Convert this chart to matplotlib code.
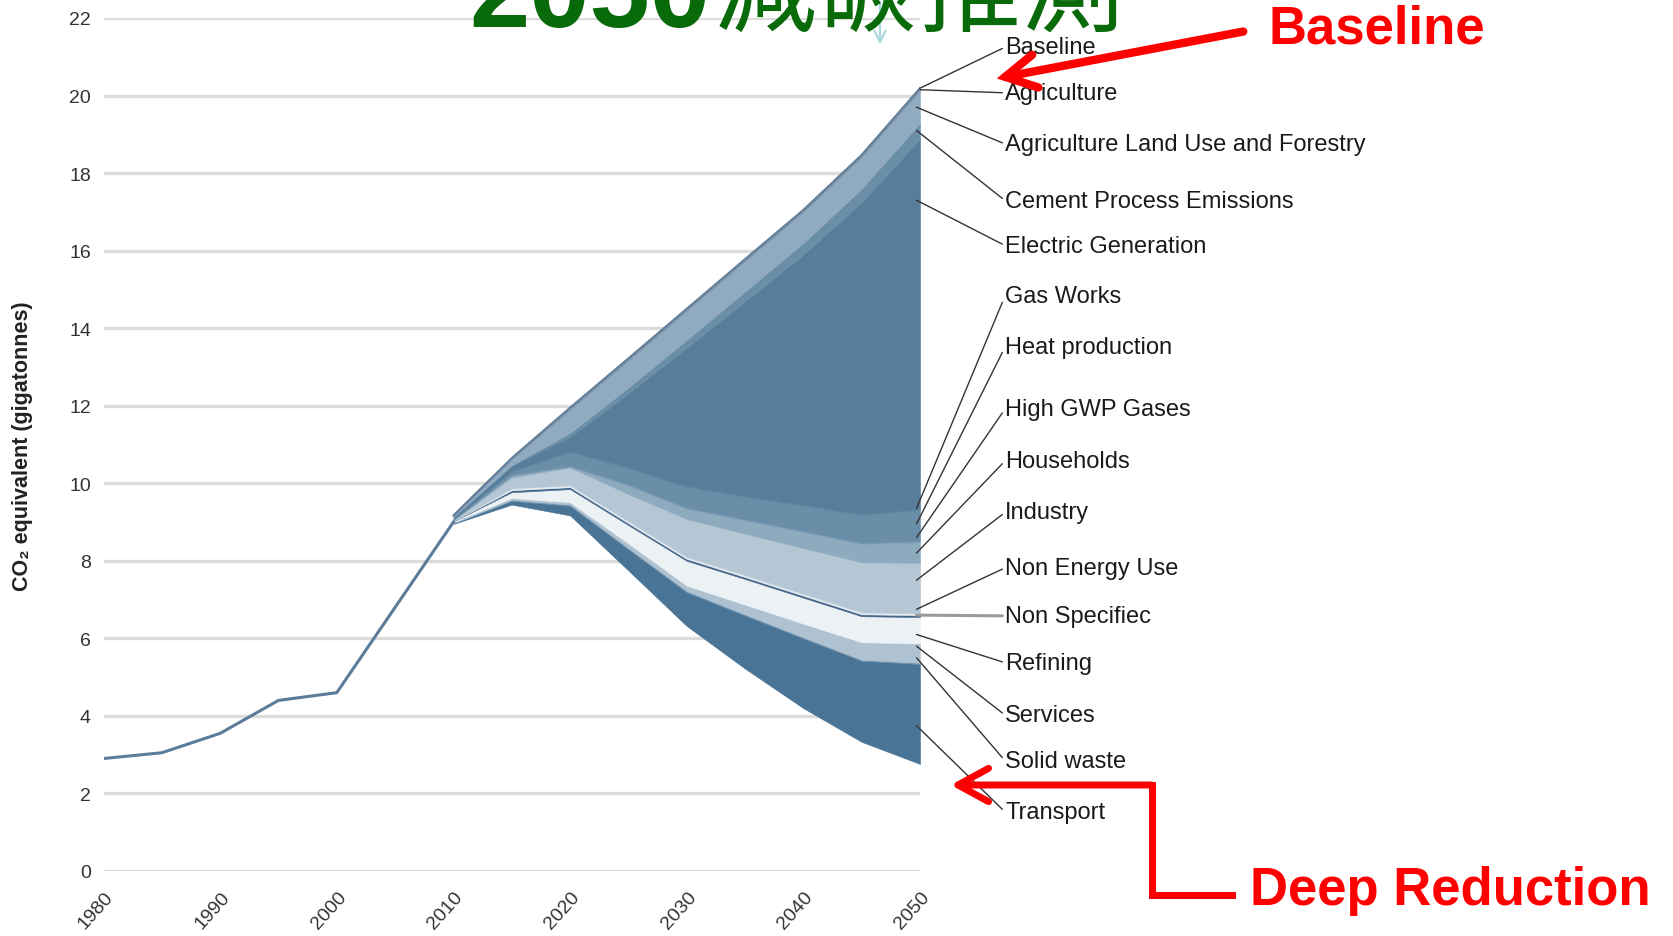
import numpy as np
import matplotlib.pyplot as plt
import matplotlib.transforms as mtransforms
from matplotlib.patches import FancyArrowPatch
from matplotlib.lines import Line2D

plt.rcParams['font.family'] = ['Liberation Sans', 'DejaVu Sans']

# ---- data (gigatonnes CO2 equivalent) ----
hist_years = [1980, 1985, 1990, 1995, 2000, 2010]
hist_values = [2.9, 3.05, 3.55, 4.4, 4.6, 9.0]

years = [2010, 2015, 2020, 2025, 2030, 2035, 2040, 2045, 2050]
deep_reduction = [8.95, 9.45, 9.17, 7.75, 6.32, 5.22, 4.20, 3.33, 2.76]
# reduction wedges, bottom to top
transport   = [0.02, 0.10, 0.25, 0.55, 0.87, 1.37, 1.80, 2.09, 2.58]
solid_waste = [0.00, 0.02, 0.03, 0.03, 0.03, 0.03, 0.03, 0.03, 0.03]
services    = [0.03, 0.05, 0.06, 0.12, 0.14, 0.25, 0.35, 0.45, 0.50]
refining    = [0.02, 0.15, 0.34, 0.47, 0.64, 0.66, 0.67, 0.67, 0.68]
non_specific = [0.01, 0.05, 0.05, 0.05, 0.05, 0.05, 0.05, 0.05, 0.05]
non_energy  = [0.00, 0.05, 0.05, 0.05, 0.05, 0.05, 0.05, 0.05, 0.05]
industry    = [0.02, 0.28, 0.46, 0.70, 0.98, 1.07, 1.18, 1.29, 1.30]
households  = [0.01, 0.05, 0.01, 0.22, 0.26, 0.34, 0.41, 0.47, 0.53]
high_gwp    = [0.00, 0.02, 0.03, 0.03, 0.03, 0.03, 0.03, 0.03, 0.03]
heat        = [0.02, 0.08, 0.35, 0.40, 0.53, 0.57, 0.64, 0.71, 0.79]
gas_works   = [0.00, 0.02, 0.03, 0.03, 0.03, 0.03, 0.03, 0.03, 0.03]
electric    = [0.05, 0.13, 0.37, 1.92, 3.57, 5.03, 6.46, 8.05, 9.56]
cement      = [0.00, 0.02, 0.10, 0.15, 0.20, 0.25, 0.30, 0.35, 0.40]
agri_land   = [0.02, 0.15, 0.60, 0.70, 0.75, 0.78, 0.80, 0.82, 0.85]
agriculture = [0.02, 0.03, 0.05, 0.05, 0.05, 0.05, 0.05, 0.05, 0.05]

layers = [deep_reduction, transport, solid_waste, services, refining, non_specific,
          non_energy, industry, households, high_gwp, heat, gas_works, electric,
          cement, agri_land, agriculture]
layer_colors = ['none', '#4a7496', '#6e90ab', '#aec2d1', '#ecf1f4', '#44658a',
                '#e3eaef', '#b5c7d4', '#8eaabf', '#7d9db5', '#6a8ea8', '#5e86a2',
                '#577d9b', '#6a8ea8', '#90abbf', '#7b93ab']

label_names = ['Baseline', 'Agriculture', 'Agriculture Land Use and Forestry',
               'Cement Process Emissions', 'Electric Generation', 'Gas Works',
               'Heat production', 'High GWP Gases', 'Households', 'Industry',
               'Non Energy Use', 'Non Specifiec', 'Refining', 'Services',
               'Solid waste', 'Transport']
# label placement (data units)
label_y = [21.25, 20.07, 18.75, 17.29, 16.13, 14.84, 13.52, 11.92, 10.58, 9.25,
           7.82, 6.58, 5.37, 4.02, 2.84, 1.52]
leader_y = [20.19, 20.15, 19.7, 19.1, 17.3, 9.35, 8.95, 8.6, 8.2, 7.5,
            6.75, 6.6, 6.1, 5.8, 5.5, 3.75]

W, H = 1673, 937
fig = plt.figure(figsize=(W / 100, H / 100), dpi=100)
ax = fig.add_axes([103.5 / W, 1 - 872 / H, (920 - 103.5) / W, (872 - 19) / H])

def fp(x, y):  # figure pixel -> figure fraction
    return (x / W, 1 - y / H)

ax.stackplot(years, *layers, colors=layer_colors, edgecolor='face', linewidth=0.4)
top = np.sum(np.array(layers), axis=0)
ax.plot(years, top, color='#637e99', lw=1.5, zorder=3)
ax.plot(hist_years, hist_values, color='#5b7b98', lw=2.2, zorder=3)

ax.set_xlim(1980, 2050)
ax.set_ylim(0, 22)
ax.set_yticks(range(0, 23, 2))
ax.set_xticks(range(1980, 2051, 10))
ax.yaxis.grid(True, color='#dcdcdc', lw=2.4)
ax.set_axisbelow(True)
for s in ax.spines.values():
    s.set_visible(False)
ax.tick_params(length=0, labelsize=14, labelcolor='#333333')
ax.tick_params(axis='y', pad=9)
ax.tick_params(axis='x', pad=12)
for lab in ax.get_xticklabels():
    lab.set_rotation(48)
    lab.set_ha('right')
    lab.set_transform(lab.get_transform() +
                      mtransforms.ScaledTranslation(0.13, 0, fig.dpi_scale_trans))

fig.text(*fp(23, 446), 'CO₂ equivalent (gigatonnes)', rotation=90, ha='center',
         va='center', fontsize=15.5, fontweight='bold', color='#222222')

# sector labels with leader lines
for name, ty, ly in zip(label_names, label_y, leader_y):
    if name == 'Non Specifiec':
        lc, lw = '#9a9a9a', 2.2
    else:
        lc, lw = '#333333', 1.0
    lx = 2050 if name in ('Baseline', 'Agriculture') else 2049.7
    ax.annotate(name, xy=(lx, ly), xytext=(2057.3, ty), ha='left', va='center',
                fontsize=17, color='#1a1a1a', annotation_clip=False,
                arrowprops=dict(arrowstyle='-', color=lc, lw=lw, shrinkA=0,
                                shrinkB=0, relpos=(0, 0.5)))

# title, cut by the top edge
fig.text(*fp(469, 27), '2050', fontsize=78, fontweight='bold', color='#086a08',
         ha='left', va='baseline')
fig.text(*fp(713, 24), '減碳推測', fontsize=74, color='#086a08', ha='left',
         va='baseline', family=['Noto Sans CJK TC', 'DejaVu Sans'])
fig.add_artist(FancyArrowPatch(fp(880, 0), fp(880, 48), transform=fig.transFigure,
                               arrowstyle='->,head_length=8,head_width=4',
                               color='#a9d6df', lw=1.5))

# red call-outs
red = '#ff0000'
fig.text(*fp(1268, 29), 'Baseline', fontsize=38, fontweight='bold', color=red,
         ha='left', va='center')
fig.text(*fp(1250, 891), 'Deep Reduction', fontsize=38, fontweight='bold', color=red,
         ha='left', va='center')
fig.add_artist(FancyArrowPatch(fp(1246, 32), fp(994, 80), transform=fig.transFigure,
                               arrowstyle='->,head_length=22,head_width=12',
                               color=red, lw=6, joinstyle='miter'))
bx, by = zip(fp(1232, 896), fp(1152, 896), fp(1152, 786))
fig.add_artist(Line2D(bx, by, transform=fig.transFigure, color=red, lw=5,
                      solid_joinstyle='miter'))
fig.add_artist(FancyArrowPatch(fp(1154.5, 786), fp(948, 786), transform=fig.transFigure,
                               arrowstyle='->,head_length=22,head_width=12',
                               color=red, lw=5))

fig.savefig('out.png', dpi=100)
